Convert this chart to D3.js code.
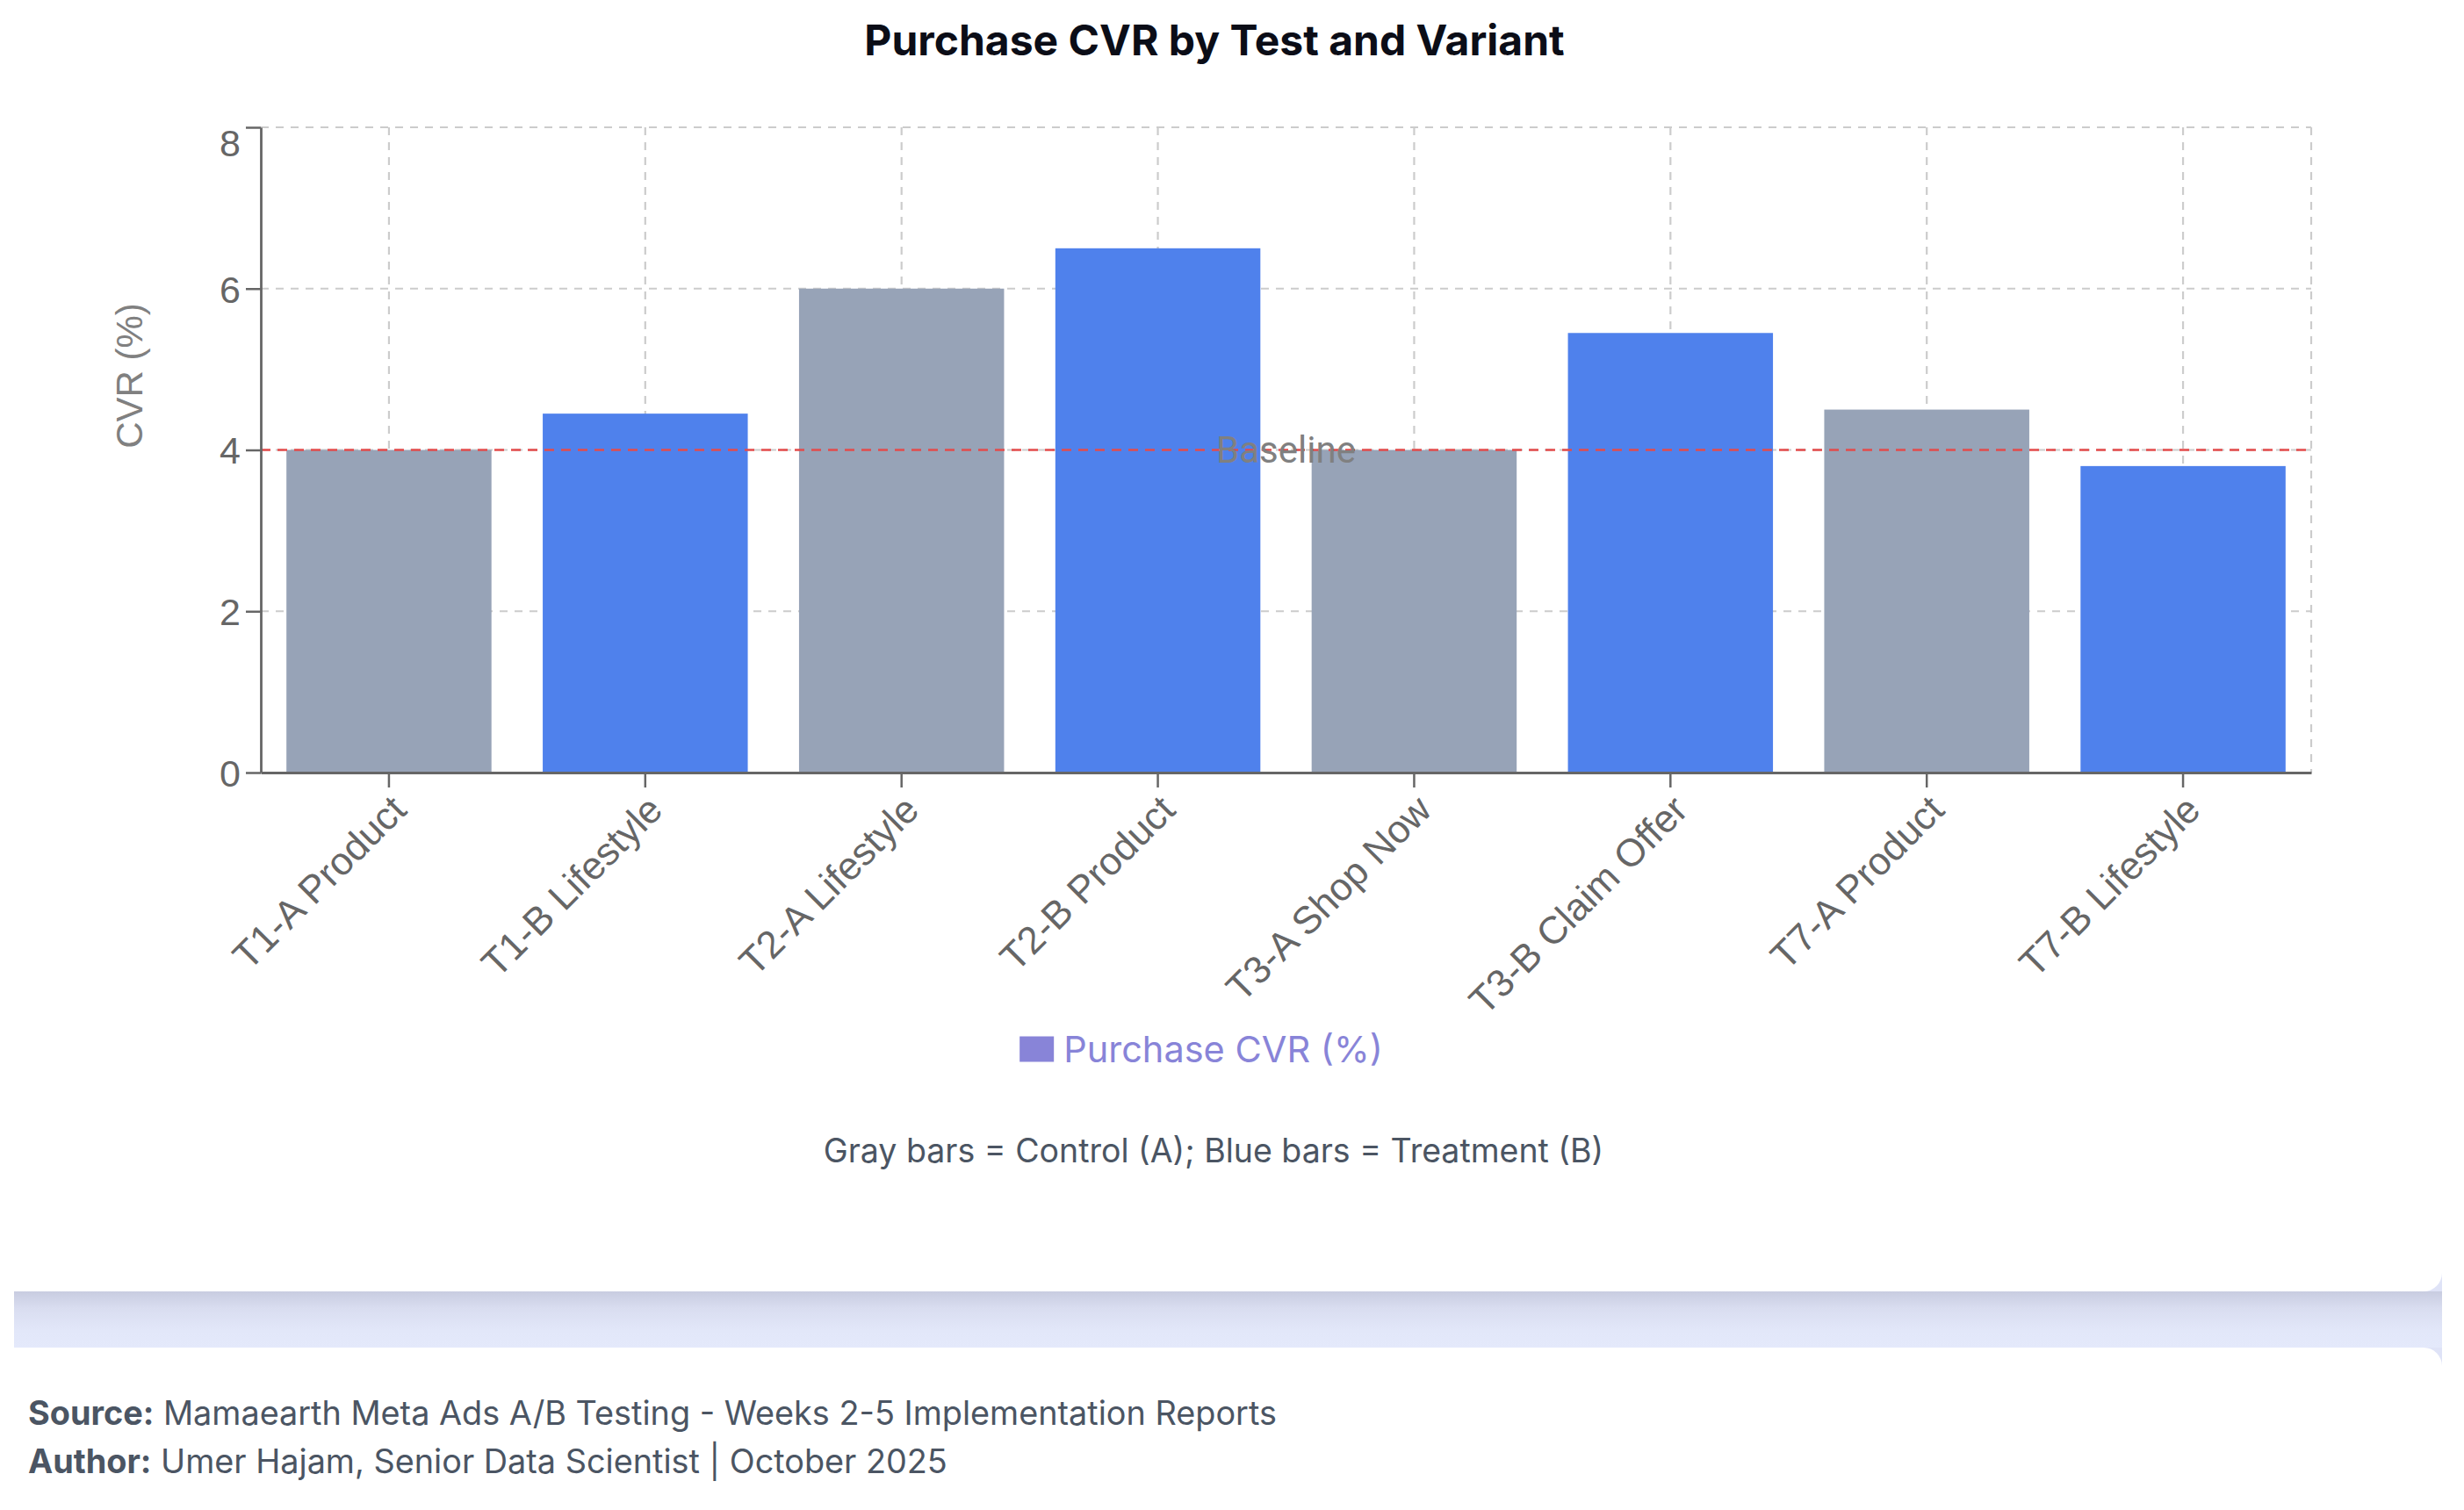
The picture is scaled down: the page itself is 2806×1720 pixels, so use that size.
<!DOCTYPE html>
<html>
<head>
<meta charset="utf-8">
<script src="https://cdn.jsdelivr.net/npm/d3@7"></script>
<style>
  html, body { margin: 0; padding: 0; background: #ffffff; }
  svg { display: block; }
</style>
</head>
<body>
<svg id="chart" width="2806" height="1720"></svg>
<script>
// ---- Data ----
const categories = ["T1-A Product", "T1-B Lifestyle", "T2-A Lifestyle", "T2-B Product",
                    "T3-A Shop Now", "T3-B Claim Offer", "T7-A Product", "T7-B Lifestyle"];
const cvrValues = [4.0, 4.45, 6.0, 6.5, 4.0, 5.45, 4.5, 3.8];
const variantGroups = ["A", "B", "A", "B", "A", "B", "A", "B"];
const yTicks = [0, 2, 4, 6, 8];
const baselineValue = 4;
const titleText = "Purchase CVR by Test and Variant";
const yAxisTitle = "CVR (%)";
const legendLabel = "Purchase CVR (%)";
const noteText = "Gray bars = Control (A); Blue bars = Treatment (B)";
const sourceText = "Mamaearth Meta Ads A/B Testing - Weeks 2-5 Implementation Reports";
const authorText = "Umer Hajam, Senior Data Scientist | October 2025";

// ---- Layout / style ----
const plot = { left: 297, right: 2632, top: 145, bottom: 880 };
const colorFor = { A: "#97a3b7", B: "#4f81ec" };
const sansUI = "Inter, 'Noto Sans', 'Liberation Sans', sans-serif";
const sansAxis = "'Liberation Sans', Arial, sans-serif";

const svg = d3.select("#chart");

// background: gradient band between cards
const defs = svg.append("defs");
const grad = defs.append("linearGradient").attr("id", "bandGrad")
  .attr("gradientUnits", "userSpaceOnUse")
  .attr("x1", 0).attr("y1", 1471).attr("x2", 0).attr("y2", 1535);
grad.append("stop").attr("offset", "0%").attr("stop-color", "#c8cce0");
grad.append("stop").attr("offset", "30%").attr("stop-color", "#d9ddf0");
grad.append("stop").attr("offset", "70%").attr("stop-color", "#e2e7f9");
grad.append("stop").attr("offset", "100%").attr("stop-color", "#e4e9fb");

svg.append("rect").attr("x", 16).attr("y", 1420).attr("width", 2765).attr("height", 170)
  .attr("fill", "#dfe3f7");
svg.append("rect").attr("x", 16).attr("y", 1471).attr("width", 2765).attr("height", 64)
  .attr("fill", "url(#bandGrad)");
// chart card
svg.append("rect").attr("x", -60).attr("y", -60).attr("width", 2841).attr("height", 1531)
  .attr("rx", 21).attr("fill", "#ffffff");
// footer card
svg.append("rect").attr("x", -60).attr("y", 1535).attr("width", 2841).attr("height", 260)
  .attr("rx", 21).attr("fill", "#ffffff");

// ---- Scales ----
const x = d3.scaleBand().domain(categories)
  .range([plot.left, plot.right]).paddingInner(0.2).paddingOuter(0.1);
const y = d3.scaleLinear().domain([0, 8]).range([plot.bottom, plot.top]);

// ---- Grid ----
const grid = svg.append("g").attr("stroke", "#cccccc").attr("stroke-width", 2.2)
  .attr("stroke-dasharray", "9 8").attr("fill", "none");
grid.selectAll("line.h").data(yTicks.filter(d => d > 0)).join("line")
  .attr("x1", plot.left).attr("x2", plot.right)
  .attr("y1", d => y(d)).attr("y2", d => y(d));
grid.selectAll("line.v").data(categories).join("line")
  .attr("x1", d => x(d) + x.bandwidth() / 2).attr("x2", d => x(d) + x.bandwidth() / 2)
  .attr("y1", plot.top).attr("y2", plot.bottom);
grid.append("line").attr("x1", plot.right).attr("x2", plot.right)
  .attr("y1", plot.top).attr("y2", plot.bottom);

// ---- Bars ----
svg.append("g").selectAll("rect").data(categories).join("rect")
  .attr("x", d => x(d))
  .attr("width", x.bandwidth())
  .attr("y", (d, i) => y(cvrValues[i]))
  .attr("height", (d, i) => y(0) - y(cvrValues[i]))
  .attr("fill", (d, i) => colorFor[variantGroups[i]]);

// ---- Reference line ----
svg.append("line")
  .attr("x1", plot.left).attr("x2", plot.right)
  .attr("y1", y(baselineValue)).attr("y2", y(baselineValue))
  .attr("stroke", "#e34b4b").attr("stroke-width", 2.5).attr("stroke-dasharray", "11 8");
svg.append("text")
  .attr("x", (plot.left + plot.right) / 2).attr("y", y(baselineValue))
  .attr("text-anchor", "middle").attr("dominant-baseline", "central")
  .attr("font-family", "Roboto, " + sansUI).attr("font-size", 42)
  .attr("fill", "#808080").text("Baseline");

// ---- Axes ----
const xAxis = d3.axisBottom(x).tickSize(17).tickSizeOuter(0).tickPadding(6);
const gx = svg.append("g").attr("transform", `translate(0,${plot.bottom})`).call(xAxis);
gx.select(".domain").attr("stroke", "#666").attr("stroke-width", 2.8);
gx.selectAll(".tick line").attr("stroke", "#666").attr("stroke-width", 2.5);
gx.selectAll(".tick text")
  .attr("font-family", sansAxis).attr("font-size", 44).attr("fill", "#666")
  .attr("text-anchor", "end")
  .attr("y", 0).attr("dy", "0.71em")
  .attr("transform", "translate(0,23) rotate(-45)");

const yAxis = d3.axisLeft(y).tickValues(yTicks).tickSize(17).tickSizeOuter(0).tickPadding(6)
  .tickFormat(d3.format("d"));
const gy = svg.append("g").attr("transform", `translate(${plot.left},0)`).call(yAxis);
gy.select(".domain").attr("stroke", "#666").attr("stroke-width", 2.8);
gy.selectAll(".tick line").attr("stroke", "#666").attr("stroke-width", 2.5);
gy.selectAll(".tick text")
  .attr("font-family", sansAxis).attr("font-size", 43).attr("fill", "#666")
  .attr("dy", d => d === 8 ? "0.75em" : "0.36em");

// y axis title
svg.append("text")
  .attr("transform", "translate(147,428) rotate(-90)")
  .attr("text-anchor", "middle").attr("dominant-baseline", "central")
  .attr("font-family", sansAxis).attr("font-size", 42).attr("fill", "#808080")
  .text(yAxisTitle);

// ---- Title ----
svg.append("text")
  .attr("x", 1383).attr("y", 63)
  .attr("text-anchor", "middle")
  .attr("font-family", sansUI).attr("font-weight", 700).attr("font-size", 48)
  .attr("fill", "#0b0d17").text(titleText);

// ---- Legend ----
const lg = svg.append("g");
lg.append("rect").attr("x", 0).attr("y", -14.5).attr("width", 39).attr("height", 29)
  .attr("fill", "#8884d8");
const lt = lg.append("text").attr("x", 50).attr("y", 0)
  .attr("dominant-baseline", "central")
  .attr("font-family", sansUI).attr("font-size", 41.5).attr("fill", "#8884d8")
  .text(legendLabel);
const lw = 50 + lt.node().getComputedTextLength();
lg.attr("transform", `translate(${1368 - lw / 2},1195)`);

// ---- Note ----
svg.append("text")
  .attr("x", 1382).attr("y", 1310)
  .attr("text-anchor", "middle").attr("dominant-baseline", "central")
  .attr("font-family", sansUI).attr("font-size", 37.5).attr("fill", "#4b5563")
  .text(noteText);

// ---- Footer ----
const f1 = svg.append("text").attr("x", 32).attr("y", 1609)
  .attr("dominant-baseline", "central")
  .attr("font-family", sansUI).attr("font-size", 37.8).attr("fill", "#4b5563");
f1.append("tspan").attr("font-weight", 700).text("Source:");
f1.append("tspan").text(" " + sourceText);
const f2 = svg.append("text").attr("x", 32).attr("y", 1664)
  .attr("dominant-baseline", "central")
  .attr("font-family", sansUI).attr("font-size", 37.8).attr("fill", "#4b5563");
f2.append("tspan").attr("font-weight", 700).text("Author:");
f2.append("tspan").text(" " + authorText);
</script>
</body>
</html>
